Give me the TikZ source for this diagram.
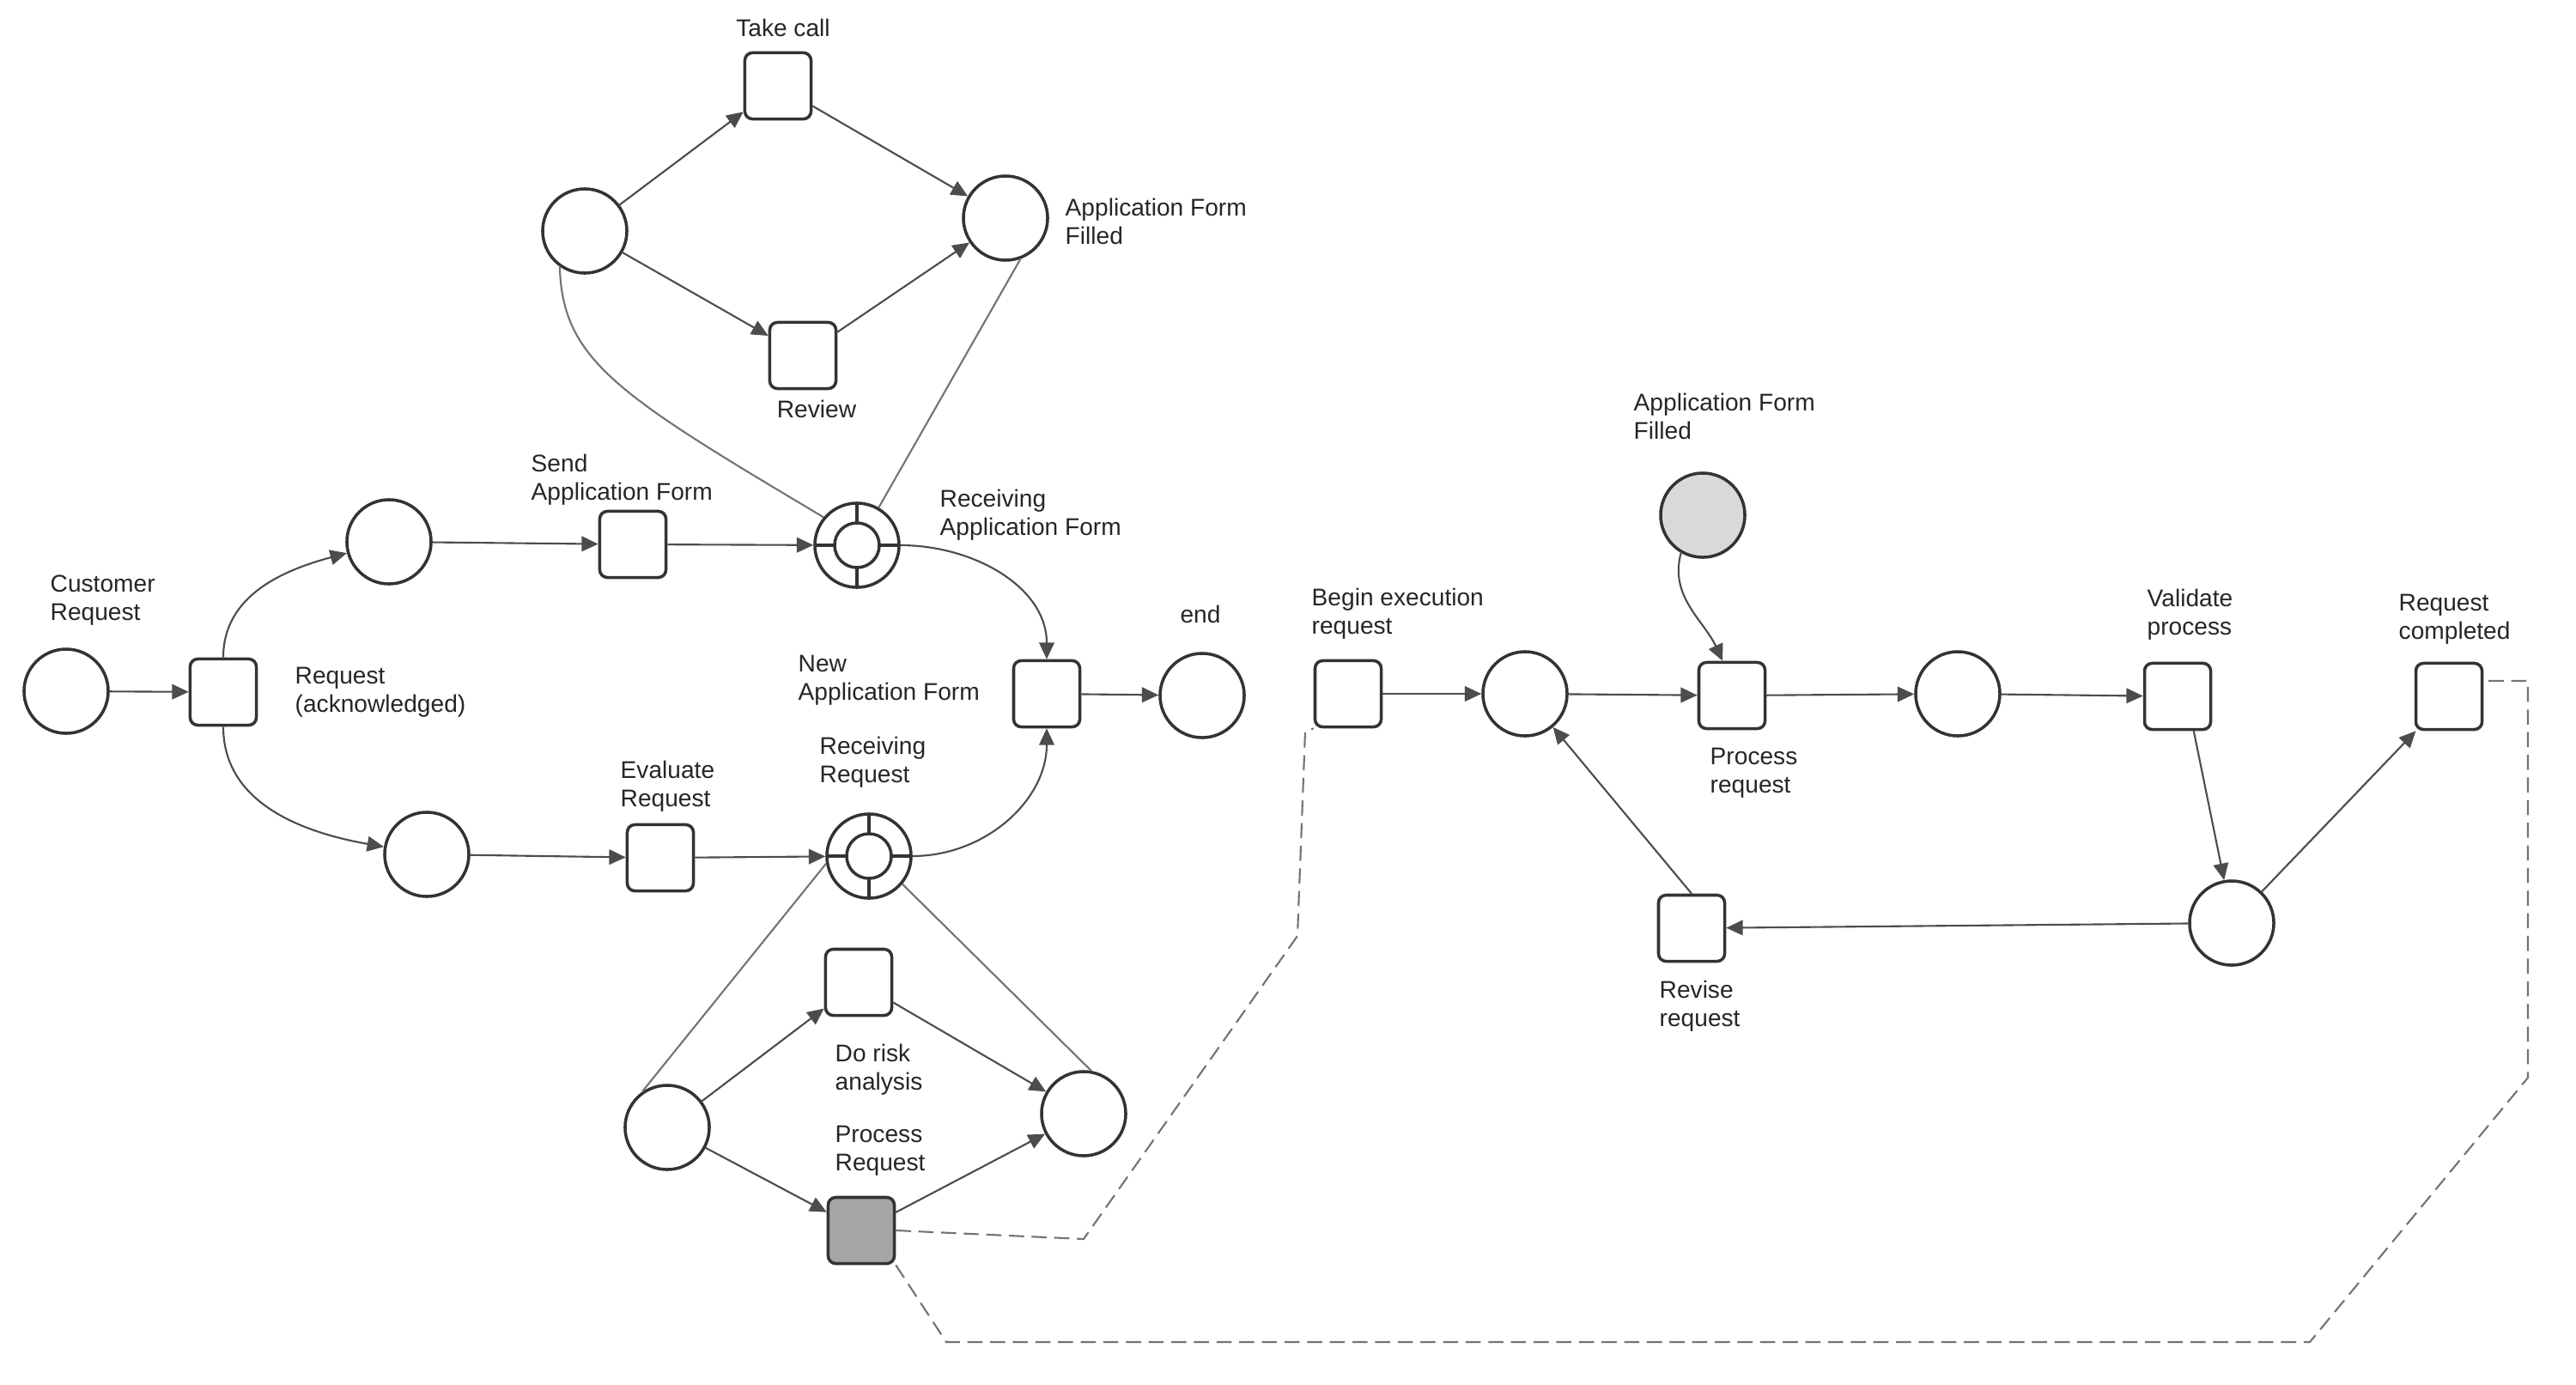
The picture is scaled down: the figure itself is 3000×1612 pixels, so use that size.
\documentclass[tikz,border=0pt]{standalone}
\usepackage{fontspec}
\setmainfont{Liberation Sans}
\usetikzlibrary{arrows.meta,calc}
\begin{document}
\begin{tikzpicture}[x=0.01cm,y=-0.01cm,
 place/.style={circle,draw=black!80,line width=1pt,minimum size=0.98cm,inner sep=0pt},
 trans/.style={rectangle,rounded corners=2.5pt,draw=black!80,line width=1pt,minimum size=0.77cm,inner sep=0pt},
 subplace/.style={place,path picture={\draw[line width=1pt,black!80] (path picture bounding box.center) circle (0.26cm);
   \foreach \a in {0,90,180,270}{\draw[line width=1pt,black!80] ($(path picture bounding box.center)+(\a:0.26cm)$) -- ($(path picture bounding box.center)+(\a:0.49cm)$);}}},
 lbl/.style={font=\fontsize{8}{9.5}\selectfont,align=left,inner sep=0pt,text=black!85},
 arc/.style={draw=black!70,line width=0.6pt,-{Triangle[length=5.5pt,width=5pt]}},
 link/.style={draw=black!55,line width=0.6pt},
 msg/.style={draw=black!55,line width=0.6pt,dash pattern=on 5pt off 2.5pt}]
\useasboundingbox[fill=white] (0,0) rectangle (3000,1612);

% ---- top cluster
\node[place] (Ptl) at (681,269) {};
\node[trans] (Ttake) at (906,100) {};
\node[lbl] (lTake) at (912,32) {Take call};
\node[place] (Paf) at (1171,254) {};
\node[lbl,anchor=west] (lPaf) at (1240,258) {Application Form\\Filled};
\node[trans] (Trev) at (935,414) {};
\node[lbl] (lRev) at (951,476) {Review};

% ---- left part
\node[place] (Pcust) at (77,805) {};
\node[lbl,anchor=west] (lCust) at (58,699) {Customer\\Request};
\node[trans] (Treq) at (260,806) {};
\node[lbl,anchor=west] (lReq) at (343,806) {Request\\(acknowledged)};
\node[place] (Pa) at (453,631) {};
\node[trans] (Tsend) at (737,634) {};
\node[lbl,anchor=west] (lSend) at (618,559) {Send\\Application Form};
\node[subplace] (RecvApp) at (998,635) {};
\node[lbl,anchor=west] (lRecvApp) at (1094,600) {Receiving\\Application Form};
\node[place] (Pb) at (497,995) {};
\node[trans] (Teval) at (769,999) {};
\node[lbl,anchor=west] (lEval) at (722,916) {Evaluate\\Request};
\node[subplace] (RecvReq) at (1012,997) {};
\node[lbl,anchor=west] (lRecvReq) at (954,888) {Receiving\\Request};
\node[trans] (Tplan) at (1219,808) {};
\node[lbl,anchor=west] (lPlan) at (929,792) {New\\Application Form};
\node[place] (Pend) at (1400,810) {};
\node[lbl] (lEnd) at (1398,715) {end};

% ---- bottom cluster
\node[place] (Pbl) at (777,1313) {};
\node[trans] (Ttop) at (1000,1144) {};
\node[lbl,anchor=west] (lTop) at (972,1246) {Do risk\\analysis};
\node[trans,fill=black!35] (Tbot) at (1003,1433) {};
\node[lbl,anchor=west] (lBot) at (972,1340) {Process\\Request};
\node[place] (Pbr) at (1262,1297) {};

% ---- right part
\node[trans] (Tbegin) at (1570,808) {};
\node[lbl,anchor=west] (lBegin) at (1527,715) {Begin execution\\request};
\node[place] (Pm) at (1776,808) {};
\node[place,fill=black!15] (Pform) at (1983,600) {};
\node[lbl,anchor=west] (lForm) at (1902,485) {Application Form\\Filled};
\node[trans] (Tx) at (2017,810) {};
\node[lbl,anchor=west] (lTx) at (1991,900) {Process\\request};
\node[place] (Pn) at (2280,808) {};
\node[trans] (Tval) at (2536,811) {};
\node[lbl,anchor=west] (lVal) at (2500,716) {Validate\\process};
\node[place] (Pq) at (2599,1075) {};
\node[trans] (Tfinal) at (2852,811) {};
\node[lbl,anchor=west] (lFinal) at (2793,721) {Request\\completed};
\node[trans] (Tret) at (1970,1081) {};
\node[lbl,anchor=west] (lRet) at (1932,1172) {Revise\\request};

% ---- arcs top cluster
\draw[arc] (Ptl) -- (Ttake);
\draw[arc] (Ttake) -- (Paf);
\draw[arc] (Ptl) -- (Trev);
\draw[arc] (Trev) -- (Paf);
\draw[link] (Ptl.235) .. controls (655,420) and (720,460) .. (RecvApp.140);
\draw[link] (Paf.290) -- (RecvApp.60);

% ---- arcs left
\draw[arc] (Pcust) -- (Treq);
\draw[arc] (Treq.north) to[out=90,in=195] (Pa.195);
\draw[arc] (Treq.south) to[out=-90,in=170] (Pb.170);
\draw[arc] (Pa) -- (Tsend);
\draw[arc] (Tsend) -- (RecvApp);
\draw[arc] (Pb) -- (Teval);
\draw[arc] (Teval) -- (RecvReq);
\draw[arc] (RecvApp.east) to[out=0,in=90] (Tplan.north);
\draw[arc] (RecvReq.east) to[out=0,in=-90] (Tplan.south);
\draw[arc] (Tplan) -- (Pend);

% ---- arcs bottom cluster
\draw[link] (RecvReq.190) -- (Pbl.125);
\draw[link] (RecvReq.-40) -- (Pbr.80);
\draw[arc] (Pbl) -- (Ttop);
\draw[arc] (Ttop) -- (Pbr);
\draw[arc] (Pbl) -- (Tbot);
\draw[arc] (Tbot) -- (Pbr);

% ---- arcs right
\draw[arc] (Tbegin) -- (Pm);
\draw[arc] (Pm) -- (Tx);
\draw[arc] (Pform.240) to[out=-105,in=115] (Tx.105);
\draw[arc] (Tx) -- (Pn);
\draw[arc] (Pn) -- (Tval);
\draw[arc] (Tval.-65) -- (Pq.100);
\draw[arc] (Pq) -- (Tfinal);
\draw[arc] (Pq) -- (Tret);
\draw[arc] (Tret.north) -- (Pm.-50);

% ---- dashed message links
\coordinate (d1) at (1262,1443);
\coordinate (d2) at (1511,1090);
\coordinate (d3) at (1520,852);
\draw[msg] (Tbot.east) -- (d1) -- (d2) -- (d3) -- (Tbegin.south west);
\coordinate (e1) at (1102,1563);
\coordinate (e2) at (2690,1563);
\coordinate (e3) at (2944,1255);
\coordinate (e4) at (2944,793);
\draw[msg] (Tbot.south east) -- (e1) -- (e2) -- (e3) -- (e4) -- (Tfinal.east |- e4);
\end{tikzpicture}
\end{document}
